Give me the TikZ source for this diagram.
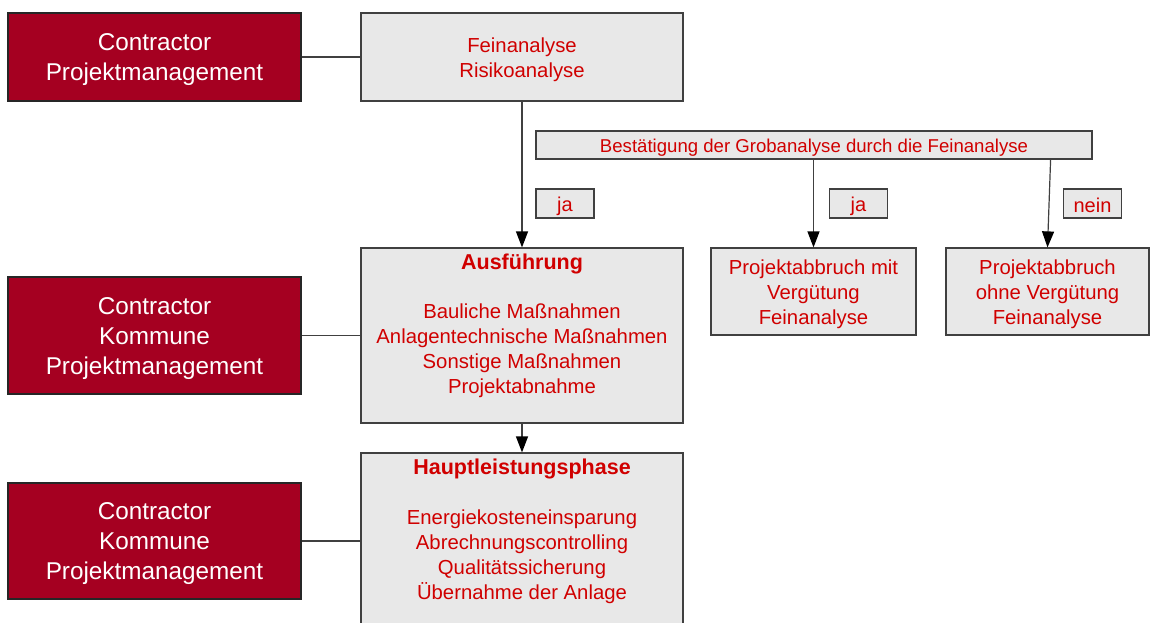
\documentclass[tikz,border=0pt]{standalone}
\usepackage{fontspec}
\setmainfont{Liberation Sans}
\usetikzlibrary{arrows.meta}
\definecolor{boxred}{HTML}{A50021}
\definecolor{txtred}{HTML}{D00000}
\definecolor{boxgrey}{HTML}{E8E8E8}
\definecolor{edgec}{HTML}{404040}
\tikzset{
  rolebox/.style={draw=black!85, line width=1.2pt, fill=boxred, inner sep=0pt,
    minimum width=293pt},
  roletext/.style={text=white, font=\fontsize{24.3}{30}\selectfont, align=center, inner sep=0pt},
  phasebox/.style={draw=edgec, line width=1.2pt, fill=boxgrey, inner sep=0pt},
  ptext/.style={text=txtred, font=\fontsize{20.3}{25}\selectfont, align=center, inner sep=0pt},
  ptitle/.style={text=txtred, font=\fontsize{21.5}{25}\selectfont\bfseries, align=center, inner sep=0pt},
  btext/.style={text=txtred, font=\fontsize{18.6}{22}\selectfont, inner sep=0pt},
  labbox/.style={draw=edgec, line width=1.2pt, fill=boxgrey, inner sep=0pt,
    minimum width=58pt, minimum height=29pt},
  ltext/.style={text=txtred, font=\fontsize{20}{24}\selectfont, inner sep=0pt},
  conn/.style={draw=edgec, line width=1.2pt},
  arr/.style={conn, -{Triangle[length=16pt,width=12pt,fill=black,color=black]}}
}
\begin{document}
\begin{tikzpicture}[x=1pt,y=-1pt]
\useasboundingbox (0,0) rectangle (1151,623);
\clip (0,0) rectangle (1151,623);
\fill[white] (0,0) rectangle (1151,623);

% role boxes
\node[rolebox, minimum height=88pt] (r1) at (154.5,57) {};
\node[rolebox, minimum height=117pt] (r2) at (154.5,335.5) {};
\node[rolebox, minimum height=116pt] (r3) at (154.5,541) {};
\node[roletext] (r1t) at (154.5,60) {Contractor\\Projektmanagement};
\node[roletext] (r2t) at (154.5,338.5) {Contractor\\Kommune\\Projektmanagement};
\node[roletext] (r3t) at (154.5,544) {Contractor\\Kommune\\Projektmanagement};

% phase boxes
\node[phasebox, minimum width=322pt, minimum height=88pt] (fa) at (522,57) {};
\node[phasebox, minimum width=556pt, minimum height=28pt] (best) at (814,145) {};
\node[phasebox, minimum width=322pt, minimum height=175pt] (aus) at (522,335.5) {};
\node[phasebox, minimum width=322pt, minimum height=187pt] (hlp) at (522,546.5) {};
\node[phasebox, minimum width=205pt, minimum height=87pt] (pm) at (813.5,291.5) {};
\node[phasebox, minimum width=203pt, minimum height=87pt] (po) at (1047.5,291.5) {};

% texts
\node[ptext] (fat) at (522,60) {Feinanalyse\\Risikoanalyse};
\node[btext] (bestt) at (814,148) {Bestätigung der Grobanalyse durch die Feinanalyse};
\node[ptext] (pmt) at (813.5,294) {Projektabbruch mit\\Vergütung\\Feinanalyse};
\node[ptext] (pot) at (1047.5,294) {Projektabbruch\\ohne Vergütung\\Feinanalyse};
\node[ptitle] (ausT) at (522,264) {Ausführung};
\node[ptext] (ausB) at (522,350.5) {Bauliche Maßnahmen\\Anlagentechnische Maßnahmen\\Sonstige Maßnahmen\\Projektabnahme};
\node[ptitle] (hlpT) at (522,469) {Hauptleistungsphase};
\node[ptext] (hlpB) at (522,557) {Energiekosteneinsparung\\Abrechnungscontrolling\\Qualitätssicherung\\Übernahme der Anlage};

% labels
\node[labbox] (ja1) at (565,203.5) {};
\node[labbox] (ja2) at (858.5,203.5) {};
\node[labbox] (nein) at (1092.5,203.5) {};
\node[ltext] (ja1t) at (565,206) {ja};
\node[ltext] (ja2t) at (858.5,206) {ja};
\node[ltext] (neint) at (1092.5,205) {nein};

% connectors
\draw[conn] (r1.east) -- (fa.west);
\draw[conn] (r2.east) -- (aus.west);
\draw[conn] (r3.east) -- (r3.east -| hlp.west);
\draw[arr] (fa.south) -- (aus.north);
\draw[arr] (aus.south) -- (hlp.north);
\draw[arr] (best.south -| pm.north) -- (pm.north);
\coordinate (neinstart) at ([xshift=-42pt]best.south east);
\draw[arr] (neinstart) -- (po.north);
\end{tikzpicture}
\end{document}
